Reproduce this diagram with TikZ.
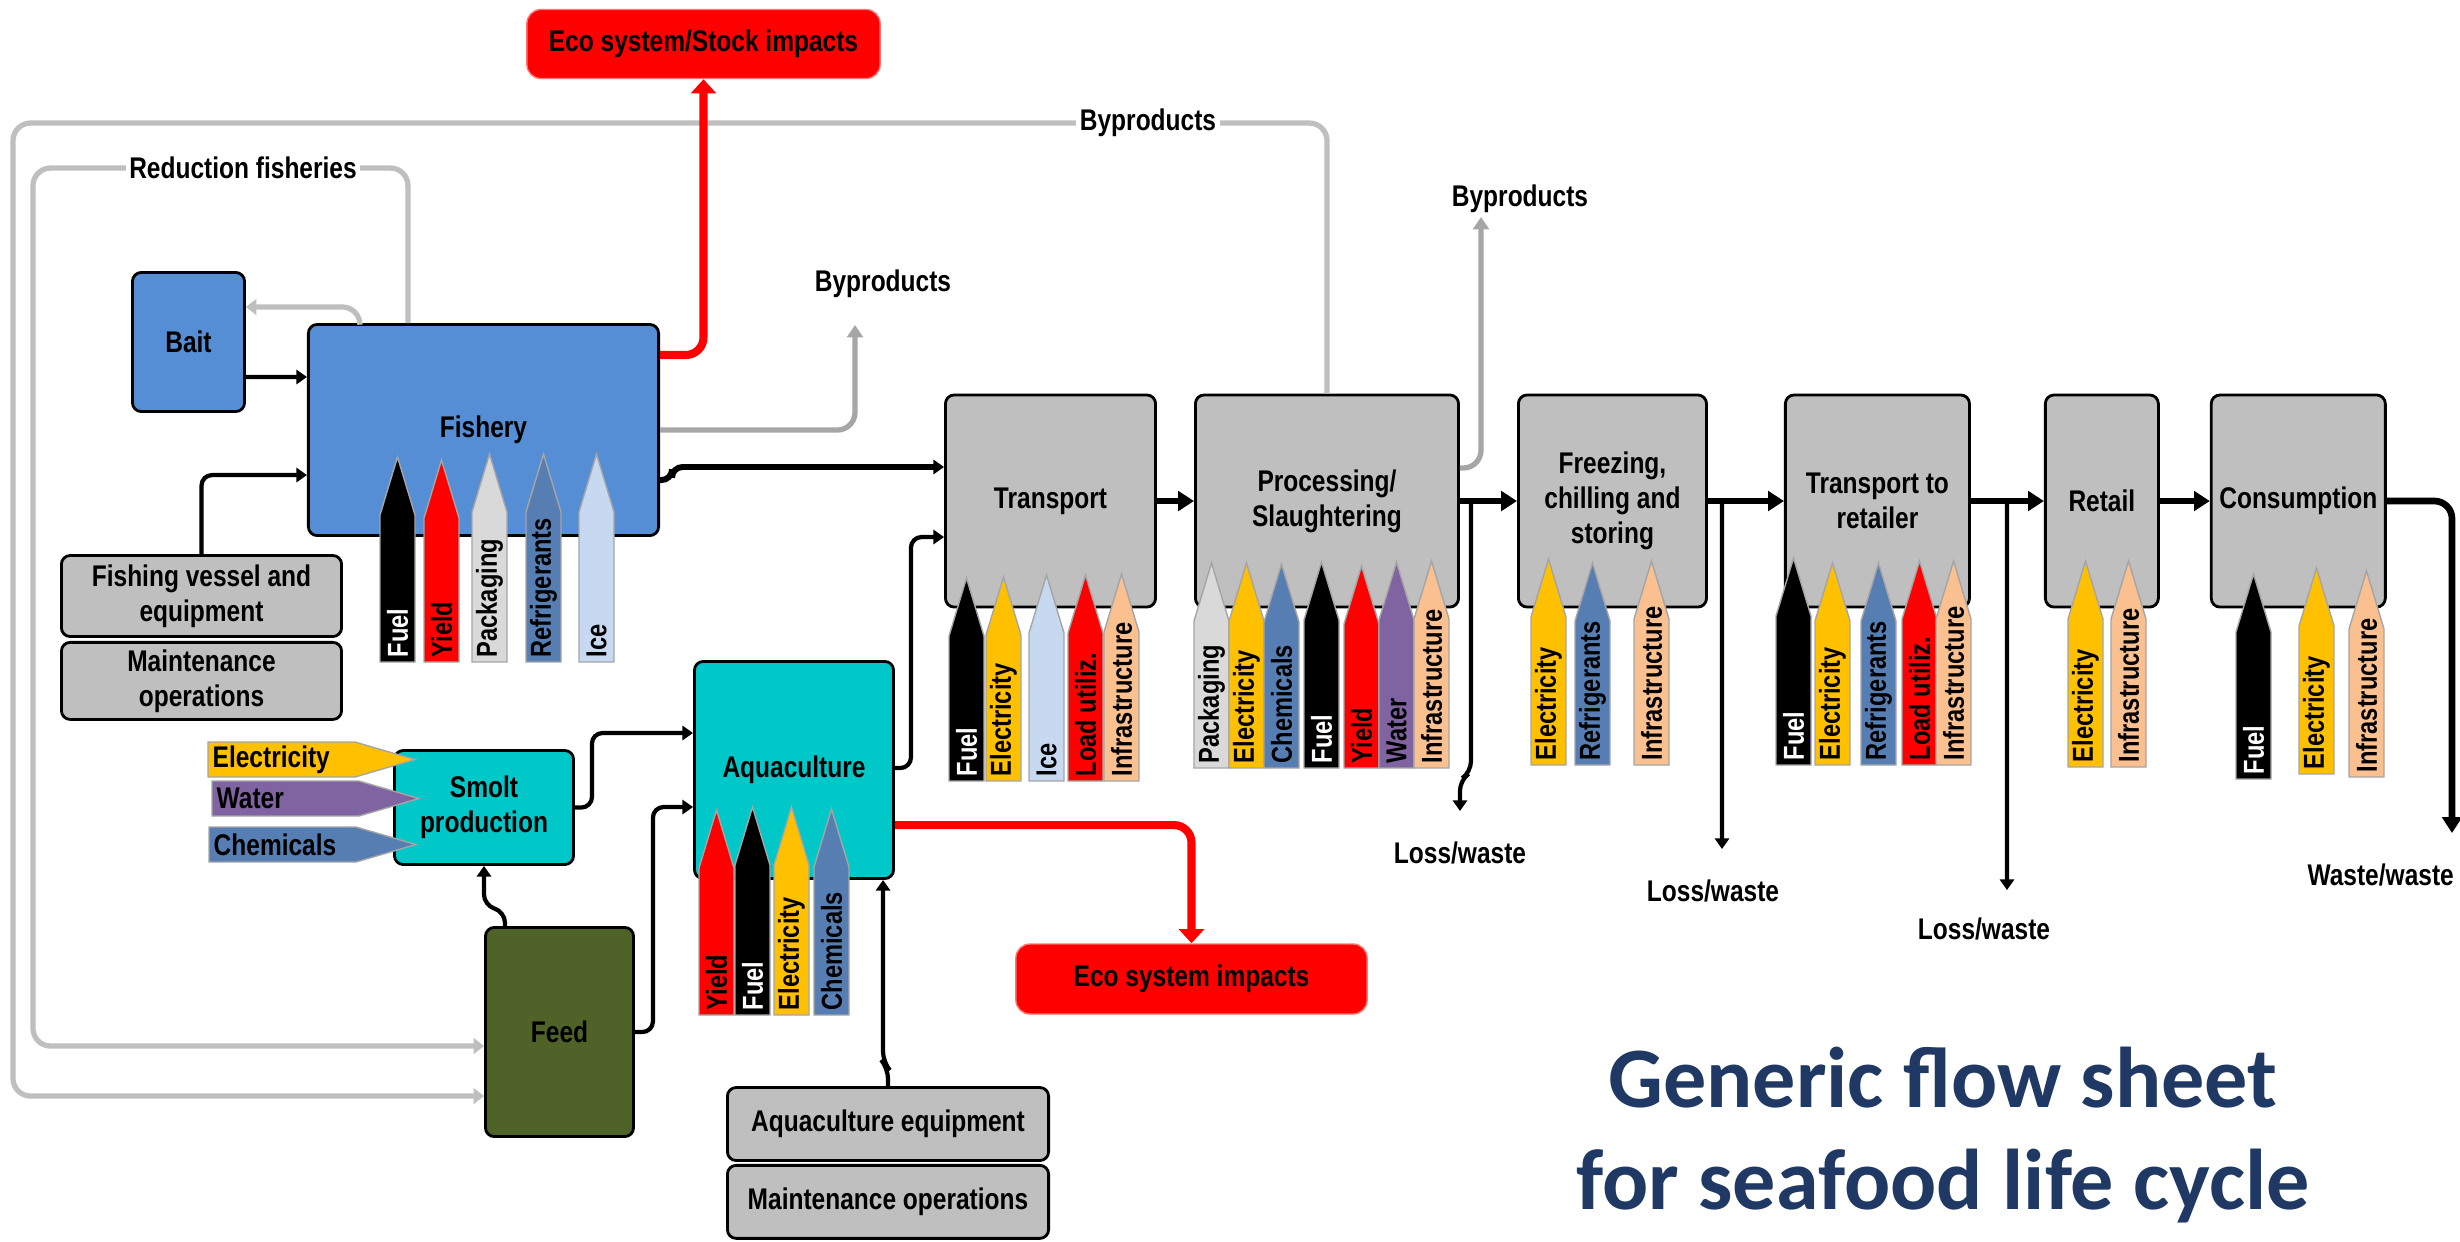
\documentclass[tikz,border=0pt]{standalone}
\usepackage{fontspec}
\setmainfont[FakeStretch=0.82]{Liberation Sans}
\newfontfamily\titlefont{Carlito}
\usepackage{tikz}
\usetikzlibrary{positioning, arrows.meta}

\definecolor{fisheryblue}{RGB}{85,142,213}
\definecolor{aquacyan}{RGB}{0,200,200}
\definecolor{feedgreen}{RGB}{79,98,40}
\definecolor{boxgrey}{RGB}{191,191,191}
\definecolor{loopgrey}{RGB}{191,191,191}
\definecolor{bygrey}{RGB}{166,166,166}
\definecolor{elecgold}{RGB}{255,192,0}
\definecolor{refblue}{RGB}{86,126,179}
\definecolor{icelight}{RGB}{198,217,241}
\definecolor{packgrey}{RGB}{217,217,217}
\definecolor{waterpurple}{RGB}{128,100,162}
\definecolor{infrapeach}{RGB}{250,192,144}
\definecolor{titlenavy}{RGB}{31,56,100}
\definecolor{tagedge}{RGB}{165,165,165}

% pencil shaped input: name, left x, tip y, bottom y, fill, text colour, label
\newcommand{\inputtag}[7]{%
  \filldraw[fill=#5, draw=tagedge, line width=0.4pt] (#2,#4) -- (#2,#3+58) -- (#2+17.5,#3) -- (#2+35,#3+58) -- (#2+35,#4) -- cycle;
  \node (#1) [tagtext, text=#6] at (#2+17.5,#4-4) {#7};}

% sideways input for smolt: name, left x, top y, fill, label
\newcommand{\sidetag}[5]{%
  \filldraw[fill=#4, draw=tagedge, line width=0.4pt] (#2,#3) -- (#2+147,#3) -- (#2+207,#3+17.5) -- (#2+147,#3+35) -- (#2,#3+35) -- cycle;
  \node (#1) [sidetext] at (#2+4,#3+17.5) {#5};}

\begin{document}
\begin{tikzpicture}[
    x=0.01cm, y=-0.01cm,
    font=\bfseries\fontsize{8.5}{10}\selectfont,
    procbox/.style={rectangle, rounded corners=2.5pt, draw=black, line width=0.8pt, fill=boxgrey, minimum height=2.12cm, align=center, inner sep=2pt},
    fishbox/.style={procbox, fill=fisheryblue},
    aquabox/.style={procbox, fill=aquacyan},
    feedbox/.style={procbox, fill=feedgreen},
    impactbox/.style={rectangle, rounded corners=4pt, draw=red!55, fill=red, minimum height=0.69cm, align=center},
    flowtext/.style={inner sep=1pt},
    tagtext/.style={rotate=90, anchor=west, inner sep=0pt, font=\bfseries\fontsize{8.2}{9}\selectfont},
    sidetext/.style={anchor=west, inner sep=0pt},
    flow/.style={-{Triangle[length=4.5pt, width=5.5pt]}, line width=1.9pt, rounded corners=5pt},
    arrow/.style={-{Triangle[length=3pt, width=4pt]}, line width=1.2pt, rounded corners=3pt},
    redarrow/.style={-{Triangle[length=4pt, width=7pt]}, line width=2.3pt, red, rounded corners=5pt},
    loopline/.style={-{Triangle[length=3pt, width=4.5pt]}, line width=1.5pt, loopgrey, rounded corners=5pt},
    byarrow/.style={-{Triangle[length=3.5pt, width=4.5pt]}, line width=1.5pt, bygrey, rounded corners=5pt}
]
\useasboundingbox (0,0) rectangle (2460,1241);

% Nodes
\node (Transport) [procbox, minimum width=2.10cm] at (1050.5,501) {Transport};
\node (Processing) [procbox, minimum width=2.63cm, right=0.37cm of Transport] {Processing/\\Slaughtering};
\node (Freezing) [procbox, minimum width=1.88cm, right=0.57cm of Processing] {Freezing,\\chilling and\\storing};
\node (ToRetailer) [procbox, minimum width=1.84cm, right=0.76cm of Freezing] {Transport to\\retailer};
\node (Retail) [procbox, minimum width=1.13cm, right=0.73cm of ToRetailer] {Retail};
\node (Consumption) [procbox, minimum width=1.74cm, right=0.5cm of Retail] {Consumption};

\node (Fishery) [fishbox, minimum width=3.50cm, minimum height=2.11cm] at (483.5,430) {Fishery};
\node (Bait) [fishbox, minimum width=1.12cm, minimum height=1.39cm] at (188.5,342) {Bait};
\node (EcoStock) [impactbox, minimum width=3.53cm] at (703.5,44) {Eco system/Stock impacts};
\node (Vessel) [procbox, minimum width=2.80cm, minimum height=0.81cm] at (201.5,596) {Fishing vessel and\\equipment};
\node (VesselMaint) [procbox, minimum width=2.80cm, minimum height=0.66cm, below=0.03cm of Vessel] {Maintenance\\operations};

\node (Smolt) [aquabox, minimum width=1.79cm, minimum height=1.14cm] at (484,807.5) {Smolt\\production};
\node (Feed) [feedbox, minimum width=1.48cm, minimum height=2.09cm] at (559.5,1032) {Feed};
\node (Aquaculture) [aquabox, minimum width=1.99cm, minimum height=2.17cm] at (794,770) {Aquaculture};
\node (AquaEquip) [procbox, minimum width=3.21cm, minimum height=0.73cm] at (888,1124) {Aquaculture equipment};
\node (AquaMaint) [procbox, minimum width=3.21cm, minimum height=0.73cm, below=0.02cm of AquaEquip] {Maintenance operations};
\node (EcoSystem) [impactbox, minimum width=3.51cm, minimum height=0.7cm] at (1191.5,979) {Eco system impacts};

\node (ByprodFishery) [flowtext] at (883,284) {Byproducts};
\node (ByprodProc) [flowtext] at (1520,199) {Byproducts};
\node (LossProc) [flowtext] at (1460,853) {Loss/waste};
\node (LossFreeze) [flowtext] at (1713,891) {Loss/waste};
\node (LossRetail) [flowtext] at (1984,929) {Loss/waste};
\node (WasteEnd) [flowtext, anchor=east] at (2458,875) {Waste/waste};

\node (Title) [font=\titlefont\bfseries\fontsize{24.5}{29}\selectfont, text=titlenavy, align=center, inner sep=0pt] at (1943,1135) {Generic flow sheet\\for seafood life cycle};

\coordinate (LoopCorner) at (13,123);
\coordinate (ReductionCorner) at (33,168);
\coordinate (FisheryByTip) at (855,325);
\coordinate (ProcByTip) at (1481,217);
\coordinate (LossProcEnd) at (1460,811);
\coordinate (LossFreezeEnd) at (1722,849);
\coordinate (LossRetailEnd) at (2007,890);
\coordinate (WasteCorner) at (2452,833);

% Arrows
\draw [loopline] (Processing.north) |- (LoopCorner) |- ([yshift=-0.64cm]Feed.west);
\draw [loopline] ([xshift=-0.755cm]Fishery.north) |- (ReductionCorner) |- ([yshift=-0.14cm]Feed.west);
\draw [loopline] ([xshift=-1.235cm]Fishery.north) |- ([yshift=0.35cm]Bait.east);
\draw [byarrow] (Fishery.east) -| (FisheryByTip);
\draw [byarrow] ([yshift=0.33cm]Processing.east) -| (ProcByTip);
\node (ByprodLoop) [flowtext, fill=white] at (1148,123) {Byproducts};
\node (ReductionLabel) [flowtext, fill=white] at (243,168) {Reduction fisheries};

\draw [redarrow] ([yshift=0.75cm]Fishery.east) -| (EcoStock.south);
\draw [redarrow] ([yshift=-0.55cm]Aquaculture.east) -| (EcoSystem.north);

\draw [arrow] ([yshift=-0.35cm]Bait.east) -- ([yshift=0.53cm]Fishery.west);
\draw [arrow] (Vessel.north) |- ([yshift=-0.45cm]Fishery.west);
\draw [arrow, line width=1.7pt] ([yshift=-0.5cm]Fishery.east) -- ++(12,0) |- ([yshift=0.34cm]Transport.west);
\draw [arrow] ([xshift=-0.545cm]Feed.north) -- ++(0,-14) -- ++(-21,-7) -- (Smolt.south);
\draw [arrow] (Smolt.east) -- ++(17,0) |- ([yshift=0.37cm]Aquaculture.west);
\draw [arrow] (Feed.east) -- ++(18,0) |- ([yshift=-0.37cm]Aquaculture.west);
\draw [arrow] (AquaEquip.north) -- ++(0,-18) -- ++(-5,-6) -- ([xshift=0.89cm]Aquaculture.south);
\draw [arrow] ([yshift=0.02cm]Aquaculture.east) -- ++(16,0) |- ([yshift=-0.36cm]Transport.west);

\draw [flow] (Transport) -- (Processing);
\draw [flow] (Processing) -- (Freezing);
\draw [flow] (Freezing) -- (ToRetailer);
\draw [flow] (ToRetailer) -- (Retail);
\draw [flow] (Retail) -- (Consumption);
\draw [flow] (Consumption.east) -| (WasteCorner);

\draw [arrow] ([xshift=0.11cm]Processing.east) -- ++(0,271) -- ++(-11,8) -- (LossProcEnd);
\draw [arrow] ([xshift=0.14cm]Freezing.east) -- (LossFreezeEnd);
\draw [arrow] ([xshift=0.36cm]ToRetailer.east) -- (LossRetailEnd);

% Inputs
\sidetag{SmoltElectricity}{208}{742}{elecgold}{Electricity}
\sidetag{SmoltWater}{212}{781}{waterpurple}{Water}
\sidetag{SmoltChemicals}{209}{827}{refblue}{Chemicals}

\inputtag{FishFuel}{380}{457}{662}{black}{white}{Fuel}
\inputtag{FishYield}{424}{460}{662}{red}{black}{Yield}
\inputtag{FishPack}{472}{454}{662}{packgrey}{black}{Packaging}
\inputtag{FishRefr}{526}{454}{662}{refblue}{black}{Refrigerants}
\inputtag{FishIce}{579}{454}{662}{icelight}{black}{Ice}

\inputtag{AquaYield}{699}{810}{1015}{red}{black}{Yield}
\inputtag{AquaFuel}{735}{807}{1015}{black}{white}{Fuel}
\inputtag{AquaElec}{774}{807}{1015}{elecgold}{black}{Electricity}
\inputtag{AquaChem}{814}{809}{1015}{refblue}{black}{Chemicals}

\inputtag{TrFuel}{949}{578}{781}{black}{white}{Fuel}
\inputtag{TrElec}{986}{577}{781}{elecgold}{black}{Electricity}
\inputtag{TrIce}{1029}{575}{781}{icelight}{black}{Ice}
\inputtag{TrLoad}{1068}{575}{781}{red}{black}{Load utiliz.}
\inputtag{TrInfra}{1104}{574}{781}{infrapeach}{black}{Infrastructure}

\inputtag{ProcPack}{1194}{563}{768}{packgrey}{black}{Packaging}
\inputtag{ProcElec}{1229}{563}{768}{elecgold}{black}{Electricity}
\inputtag{ProcChem}{1264}{564}{768}{refblue}{black}{Chemicals}
\inputtag{ProcFuel}{1304}{562}{768}{black}{white}{Fuel}
\inputtag{ProcYield}{1344}{566}{768}{red}{black}{Yield}
\inputtag{ProcWater}{1379}{562}{768}{waterpurple}{black}{Water}
\inputtag{ProcInfra}{1414}{561}{768}{infrapeach}{black}{Infrastructure}

\inputtag{FrzElec}{1531}{559}{765}{elecgold}{black}{Electricity}
\inputtag{FrzRefr}{1575}{563}{765}{refblue}{black}{Refrigerants}
\inputtag{FrzInfra}{1634}{561}{765}{infrapeach}{black}{Infrastructure}

\inputtag{TrrFuel}{1776}{558}{765}{black}{white}{Fuel}
\inputtag{TrrElec}{1815}{563}{765}{elecgold}{black}{Electricity}
\inputtag{TrrRefr}{1861}{563}{765}{refblue}{black}{Refrigerants}
\inputtag{TrrLoad}{1902}{561}{765}{red}{black}{Load utiliz.}
\inputtag{TrrInfra}{1936}{561}{765}{infrapeach}{black}{Infrastructure}

\inputtag{RetElec}{2068}{561}{767}{elecgold}{black}{Electricity}
\inputtag{RetInfra}{2111}{561}{767}{infrapeach}{black}{Infrastructure}

\inputtag{ConFuel}{2236}{574}{779}{black}{white}{Fuel}
\inputtag{ConElec}{2299}{568}{774}{elecgold}{black}{Electricity}
\inputtag{ConInfra}{2349}{571}{777}{infrapeach}{black}{Infrastructure}

\end{tikzpicture}
\end{document}
